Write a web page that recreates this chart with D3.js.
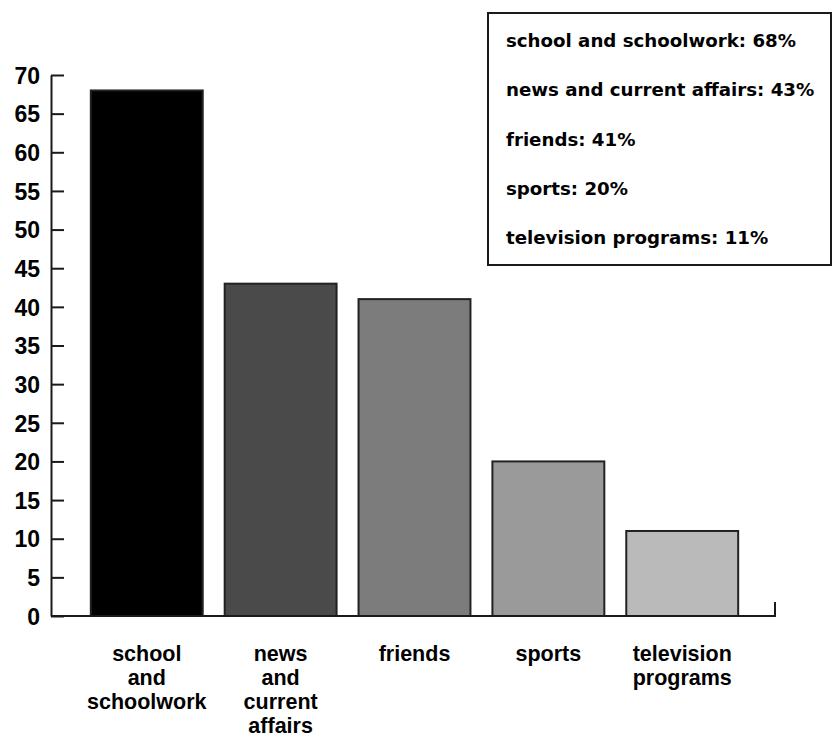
<!DOCTYPE html>
<html>
<head>
<meta charset="utf-8">
<script src="https://cdn.jsdelivr.net/npm/d3@7"></script>
<style>
  html, body { margin: 0; padding: 0; background: #fff; }
  svg { display: block; }
</style>
</head>
<body>
<svg id="chart" width="835" height="738"></svg>
<script>
// Share of respondents citing each topic (percent)
const categories = ["school and schoolwork", "news and current affairs", "friends", "sports", "television programs"];
const values = [68, 43, 41, 20, 11];
const categoryLines = [
  ["school", "and", "schoolwork"],
  ["news", "and", "current", "affairs"],
  ["friends"],
  ["sports"],
  ["television", "programs"]
];
const barFills = ["#000000", "#4a4a4a", "#7c7c7c", "#9a9a9a", "#bababa"];
const yTicks = [0, 5, 10, 15, 20, 25, 30, 35, 40, 45, 50, 55, 60, 65, 70];

const svg = d3.select("#chart");
const axisColor = "#1a1a1a";

const x = d3.scaleBand()
  .domain(categories)
  .range([52, 777])
  .paddingInner(0.164)
  .paddingOuter(0.29);

const y = d3.scaleLinear()
  .domain([0, 70])
  .range([616, 75]);

// Bars
svg.append("g")
  .selectAll("rect")
  .data(categories)
  .join("rect")
  .attr("x", d => x(d))
  .attr("y", (d, i) => y(values[i]))
  .attr("width", x.bandwidth())
  .attr("height", (d, i) => y(0) - y(values[i]))
  .attr("fill", (d, i) => barFills[i])
  .attr("stroke", "#222")
  .attr("stroke-width", 2);

// Y axis with ticks pointing into the plot
const yAxis = svg.append("g")
  .attr("transform", "translate(51,0)")
  .call(d3.axisLeft(y)
    .tickValues(yTicks)
    .tickSize(-13)
    .tickSizeOuter(0)
    .tickPadding(11)
    .tickFormat(d3.format("d")));
yAxis.select(".domain").attr("stroke", axisColor).attr("stroke-width", 2);
yAxis.selectAll(".tick line").attr("stroke", axisColor).attr("stroke-width", 2);
yAxis.selectAll(".tick text")
  .attr("font-family", "'Liberation Sans', Arial, sans-serif")
  .attr("font-weight", "bold")
  .attr("font-size", 23)
  .attr("fill", "#000")
  .attr("dy", "0.36em");

// X baseline with end tick
svg.append("path")
  .attr("d", d3.line()([[51, y(0)], [775, y(0)], [775, y(0) - 14]]))
  .attr("fill", "none")
  .attr("stroke", axisColor)
  .attr("stroke-width", 2);

// Category labels under each bar
const catLabels = svg.append("g")
  .selectAll("text")
  .data(categories)
  .join("text")
  .attr("x", d => x(d) + x.bandwidth() / 2)
  .attr("y", 661)
  .attr("text-anchor", "middle")
  .attr("font-family", "'Liberation Sans', Arial, sans-serif")
  .attr("font-weight", "bold")
  .attr("font-size", 21.5)
  .attr("fill", "#000");
catLabels.selectAll("tspan")
  .data((d, i) => categoryLines[i])
  .join("tspan")
  .attr("x", function () { return d3.select(this.parentNode).attr("x"); })
  .attr("dy", (d, i) => i === 0 ? 0 : 24)
  .text(d => d);

// Legend box listing each value
const legend = svg.append("g");
legend.append("rect")
  .attr("x", 488)
  .attr("y", 13)
  .attr("width", 343)
  .attr("height", 252)
  .attr("fill", "#fff")
  .attr("stroke", axisColor)
  .attr("stroke-width", 2);
legend.selectAll("text")
  .data(categories)
  .join("text")
  .attr("x", 506)
  .attr("y", (d, i) => 47 + i * 49.3)
  .attr("font-family", "'DejaVu Sans', sans-serif")
  .attr("font-weight", "bold")
  .attr("font-size", 18.2)
  .attr("fill", "#000")
  .text((d, i) => `${d}: ${values[i]}%`);
</script>
</body>
</html>
